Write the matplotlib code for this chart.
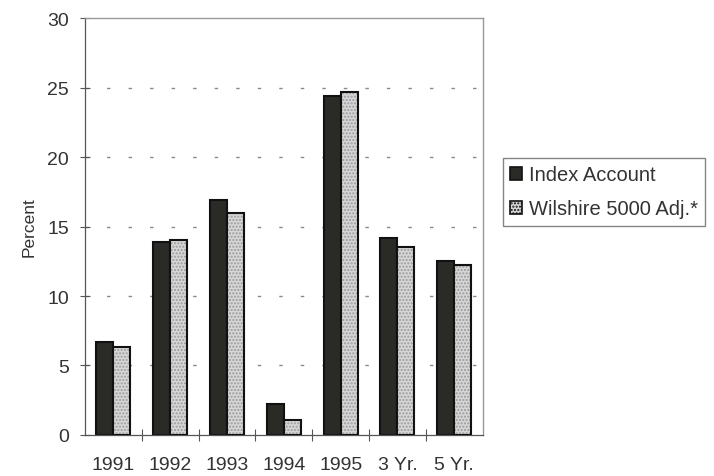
import matplotlib.pyplot as plt
from matplotlib.patches import Patch
import numpy as np

plt.rcParams['font.family'] = ['Liberation Sans', 'DejaVu Sans']

categories = ['1991', '1992', '1993', '1994', '1995', '3 Yr.', '5 Yr.']
index_account = [6.7, 13.9, 16.9, 2.2, 24.4, 14.2, 12.5]
wilshire_adj = [6.3, 14.0, 16.0, 1.1, 24.7, 13.5, 12.2]
y_ticks = [0, 5, 10, 15, 20, 25, 30]

dark = '#2a2a26'
light = '#d6d6d6'
text_col = '#333333'

fig = plt.figure(figsize=(7.14, 4.77), dpi=100)
ax = fig.add_axes([0.119, 0.086, 0.557, 0.874])

x = np.arange(len(categories))
w = 0.3

# grid first so bars sit on top
for yv in y_ticks[1:-1]:
    ax.axhline(yv, color='#8a8a8a', lw=1, linestyle=(0, (2.5, 13)), zorder=0)

ax.bar(x - w / 2, index_account, w, color=dark, edgecolor='#111111', lw=1.5, zorder=2)
ax.bar(x + w / 2, wilshire_adj, w, color=light, edgecolor='#9a9a9a', lw=0,
       hatch='.....', zorder=2)
ax.bar(x + w / 2, wilshire_adj, w, fill=False, edgecolor='#111111', lw=1.5, zorder=3)

ax.set_xlim(-0.5, len(categories) - 0.5)
ax.set_ylim(0, 30)
ax.set_yticks(y_ticks)
ax.tick_params(axis='y', direction='inout', length=7, width=0.8, color='#555555',
               labelsize=14, labelcolor=text_col, pad=8)
ax.set_xticks(x)
ax.set_xticklabels(categories)
ax.tick_params(axis='x', which='major', length=0, labelsize=14, labelcolor=text_col, pad=15)
ax.set_xticks(np.arange(0.5, len(categories) - 1, 1), minor=True)
ax.tick_params(axis='x', which='minor', direction='inout', length=8, width=0.8, color='#555555')

for side in ['left', 'bottom']:
    ax.spines[side].set_color('#555555')
    ax.spines[side].set_linewidth(0.9)
for side in ['top', 'right']:
    ax.spines[side].set_color('#999999')
    ax.spines[side].set_linewidth(1.0)

ax.set_ylabel('Percent', fontsize=12.5, color=text_col, labelpad=8)

handles = [Patch(facecolor=dark, edgecolor='#111111', lw=1.2),
           Patch(facecolor=light, edgecolor='#111111', lw=1.2, hatch='.....')]
leg = fig.legend(handles, ['Index Account', 'Wilshire 5000 Adj.*'],
                 loc='upper left', bbox_to_anchor=(0.704, 0.666),
                 fontsize=14.5, frameon=True, fancybox=False, handlelength=0.6,
                 handleheight=0.6, handletextpad=0.35, borderpad=0.35,
                 labelspacing=0.75, borderaxespad=0)
leg.get_frame().set_edgecolor('#666666')
leg.get_frame().set_linewidth(1.0)
for t in leg.get_texts():
    t.set_color(text_col)

fig.savefig('out.png', dpi=100)
